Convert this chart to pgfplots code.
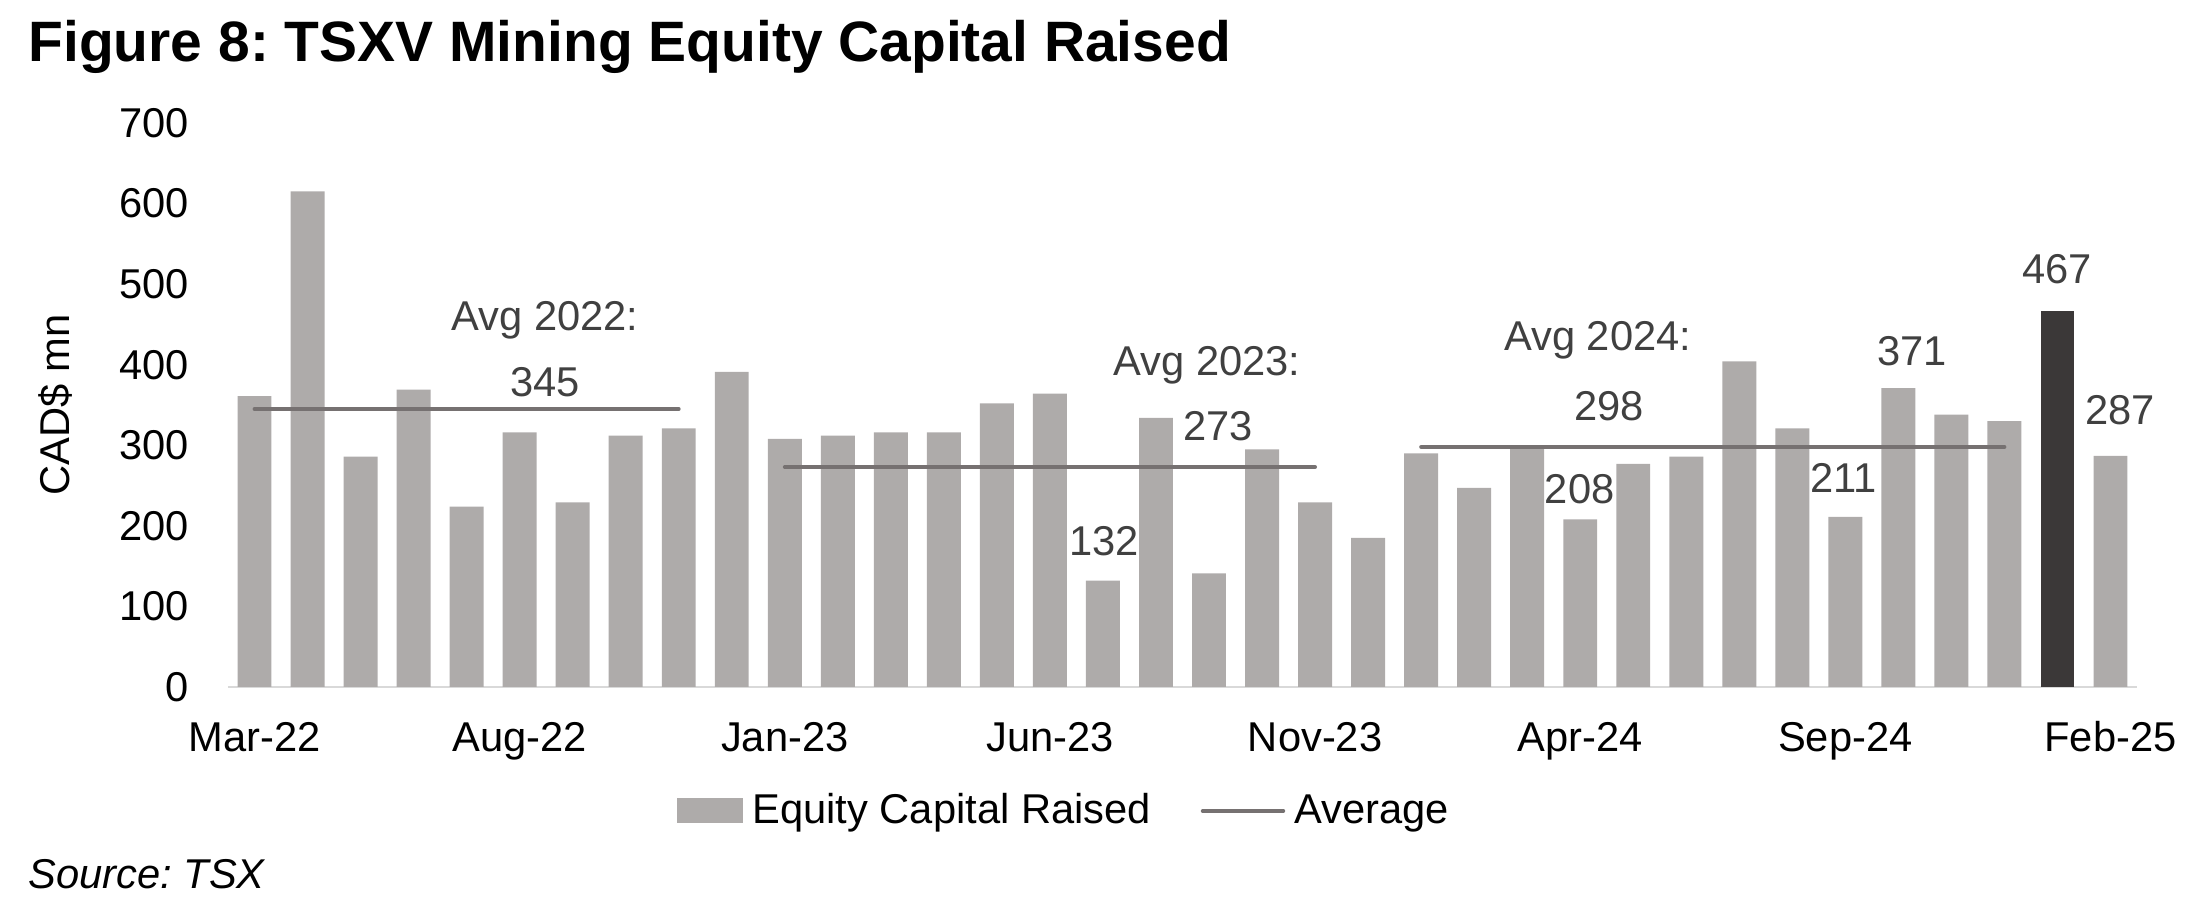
\documentclass[border=0pt]{standalone}
\usepackage{fontspec}
\setmainfont{Liberation Sans}
\usepackage{pgfplots}
\pgfplotsset{compat=1.18}
\frenchspacing
\definecolor{barGray}{HTML}{AEABAA}
\definecolor{barDark}{HTML}{3B3838}
\definecolor{avgLine}{HTML}{767171}
\definecolor{lblGray}{HTML}{404040}
\definecolor{axisGray}{HTML}{D9D9D9}
\newcommand{\chartfont}{\fontsize{15}{18}\selectfont}

\begin{document}
\begin{tikzpicture}
\begin{axis}[
  scale only axis, width=687.24pt, height=203.04pt,
  at={(0pt,0pt)}, anchor=south west,
  xmin=-0.5, xmax=35.5, ymin=0, ymax=700,
  axis x line*=bottom, axis y line*=left,
  x axis line style={draw=axisGray, line width=0.75pt},
  y axis line style={draw=none},
  xtick={0,5,...,35},
  xticklabels={Mar-22,Aug-22,Jan-23,Jun-23,Nov-23,Apr-24,Sep-24,Feb-25},
  ytick={0,100,...,700},
  major tick length=0pt,
  tick style={draw=none},
  /pgf/number format/assume math mode=true,
  ticklabel style={font=\chartfont, text=black},
  yticklabel style={anchor=east, inner sep=0pt, xshift=-14pt},
  xticklabel style={anchor=base, inner sep=0pt, yshift=-23.4pt},
  ylabel={CAD\$ mn},
  every axis y label/.style={at={(axis description cs:-0.0906,0.5)}, rotate=90, anchor=center, font=\chartfont},
  legend style={at={(axis description cs:0.4374,-0.2197)}, anchor=center,
    draw=none, fill=none, legend columns=2, font=\chartfont,
    inner sep=0pt, nodes={inner sep=0pt},
    /tikz/every odd column/.append style={column sep=3.3pt},
    /tikz/every even column/.append style={column sep=18pt}},
  clip=false,
]
% monthly equity capital raised, Mar-22 .. Feb-25 (index 0..35)
\addplot[ybar, bar width=0.64, bar shift=0pt, fill=barGray, draw=none,
  legend image code/.code={\fill[barGray] (0pt,-4.5pt) rectangle (23.8pt,4.5pt);}]
  coordinates {
  (0,361) (1,615) (2,286) (3,369) (4,224) (5,316) (6,229) (7,312) (8,321) (9,391)
  (10,308) (11,312) (12,316) (13,316) (14,352) (15,364) (16,132) (17,334) (18,141)
  (19,295) (20,229) (21,185) (22,290) (23,247) (24,298) (25,208) (26,277) (27,286)
  (28,404) (29,321) (30,211) (31,371) (32,338) (33,330) (35,287)};
\addlegendentry{Equity Capital Raised}
% latest month highlighted
\addplot[ybar, bar width=0.64, bar shift=0pt, fill=barDark, draw=none, forget plot]
  coordinates {(34,467)};
% yearly averages
\addplot[avgLine, line width=1.4pt, line cap=round, mark=none,
  legend image code/.code={\draw[avgLine, line width=1.4pt] (0pt,0pt) -- (29pt,0pt);}]
  coordinates {(0,345) (8,345)};
\addlegendentry{Average}
\addplot[avgLine, line width=1.4pt, line cap=round, mark=none, forget plot]
  coordinates {(10,273) (20,273)};
\addplot[avgLine, line width=1.4pt, line cap=round, mark=none, forget plot]
  coordinates {(22,298) (33,298)};

\begin{scope}[every node/.style={font=\chartfont, text=lblGray, anchor=center}]
\node at (axis cs:5.48,455) {Avg 2022:};
\node at (axis cs:5.48,378) {345};
\node at (axis cs:17.96,399) {Avg 2023:};
\node at (axis cs:18.17,324) {273};
\node at (axis cs:16.02,181) {132};
\node at (axis cs:25.33,430) {Avg 2024:};
\node at (axis cs:25.54,349) {298};
\node at (axis cs:24.99,246) {208};
\node at (axis cs:29.97,259) {211};
\node at (axis cs:31.26,417) {371};
\node at (axis cs:33.99,519) {467};
\node at (axis cs:35.18,343) {287};
\end{scope}
\end{axis}
\node[anchor=base west, inner sep=0pt, font=\fontsize{20.5}{24}\selectfont\bfseries] at (-72pt,225pt) {Figure 8: TSXV Mining Equity Capital Raised};
\node[anchor=base west, inner sep=0pt, font=\chartfont\itshape] at (-72pt,-72.7pt) {Source: TSX};
\pgfresetboundingbox
\path[use as bounding box] (-82.08pt,-81.36pt) rectangle (709.92pt,247.32pt);
\end{tikzpicture}
\end{document}
